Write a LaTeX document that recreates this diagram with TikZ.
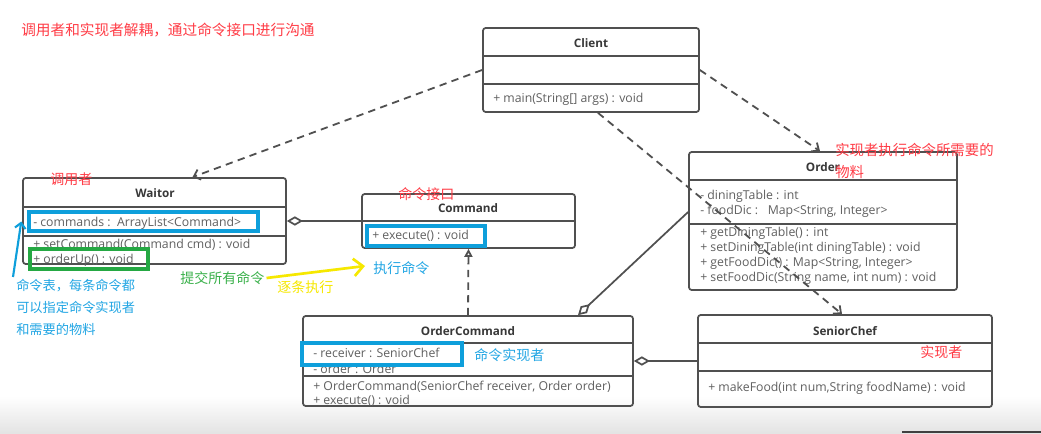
\documentclass[tikz,border=0pt]{standalone}
\usepackage{fontspec}
\setmainfont{Open Sans}
\newfontfamily\cjk{Noto Sans CJK SC}
\usetikzlibrary{arrows.meta,fit,calc,backgrounds}

\definecolor{umlline}{HTML}{505050}
\definecolor{umltext}{HTML}{606060}
\definecolor{umltitle}{HTML}{383838}
\definecolor{notered}{HTML}{FF3C46}
\definecolor{noteblue}{HTML}{22A6E4}
\definecolor{notegreen}{HTML}{3BB14B}
\definecolor{noteyellow}{HTML}{F6E800}
\definecolor{markblue}{HTML}{0E9FDB}
\definecolor{markgreen}{HTML}{25A843}

\begin{document}
\begin{tikzpicture}[
    x=0.75pt, y=-0.75pt,
    cls/.style={draw=umlline, line width=1.3pt, rounded corners=2pt, inner sep=0pt},
    sep/.style={draw=umlline, line width=1.3pt},
    title/.style={font=\fontsize{8.8}{10}\selectfont\bfseries, text=umltitle, inner sep=0pt},
    member/.style={font=\fontsize{9.2}{11}\selectfont, text=umltext, anchor=west, inner sep=0pt},
    note/.style={font=\cjk\fontsize{10.5}{12}\selectfont, anchor=west, inner sep=0pt},
    hlbox/.style={line width=2.6pt, inner sep=0pt},
    dep/.style={draw=umlline, line width=1.35pt, dash pattern=on 5.5pt off 4pt, -{Straight Barb[length=4.5pt,width=8pt]}},
    real/.style={draw=umlline, line width=1.35pt, dash pattern=on 5.5pt off 4pt, -{Triangle[open,length=6pt,width=6pt,fill=white]}},
    agg/.style={draw=umlline, line width=1.3pt, {Diamond[open,length=12pt,width=7pt,fill=white]}-}
]
\useasboundingbox (0,0) rectangle (1041,434);
\fill[white] (0,0) rectangle (1041,434);
\fill[top color=white, bottom color=black!11] (0,396) rectangle (1041,434);
\draw[black!75, line width=0.8pt] (902,432) -- (1041,432);

% Client
\node[cls, fit={(483,28) (699,112)}] (client) {};
\draw[sep] (client.west |- 0,56) -- (client.east |- 0,56);
\draw[sep] (client.west |- 0,84) -- (client.east |- 0,84);
\node[title] (clientname) at (591,43) {Client};
\node[member] (clientm1) at (493,99) {+ main(String[] args) : void};

% Waitor (invoker)
\node[cls, fit={(23,178) (286,264)}] (waitor) {};
\draw[sep] (waitor.west |- 0,207) -- (waitor.east |- 0,207);
\draw[sep] (waitor.west |- 0,236) -- (waitor.east |- 0,236);
\node[title] (waitorname) at (155,193) {Waitor};
\node[member] (waitora1) at (33,223) {- commands :\ \ ArrayList<Command>};
\node[member] (waitorm1) at (33,245) {+ setCommand(Command cmd) : void};
\node[member] (waitorm2) at (33,260) {+ orderUp() : void};

% Command interface
\node[cls, fit={(362,194) (575,248)}] (command) {};
\draw[sep] (command.west |- 0,221) -- (command.east |- 0,221);
\node[title] (commandname) at (468,208) {Command};
\node[member] (commandm1) at (372,236) {+ execute() : void};

% OrderCommand
\node[cls, fit={(303,316) (633,406)}] (ordercommand) {};
\draw[sep] (ordercommand.west |- 0,343) -- (ordercommand.east |- 0,343);
\draw[sep] (ordercommand.west |- 0,376) -- (ordercommand.east |- 0,376);
\node[title] (ordercommandname) at (468,331) {OrderCommand};
\node[member] (ordercommanda1) at (313,353) {- receiver : SeniorChef};
\node[member] (ordercommanda2) at (313,369) {- order : Order};
\node[member] (ordercommandm1) at (313,387) {+ OrderCommand(SeniorChef receiver, Order order)};
\node[member] (ordercommandm2) at (313,401) {+ execute() : void};

% Order
\node[cls, fit={(689,152) (957,290)}] (order) {};
\draw[sep] (order.west |- 0,180) -- (order.east |- 0,180);
\draw[sep] (order.west |- 0,224) -- (order.east |- 0,224);
\node[title] (ordername) at (823,167) {Order};
\node[member] (ordera1) at (700,196) {- diningTable : int};
\node[member] (ordera2) at (700,211) {- foodDic :\ \ \ Map<String, Integer>};
\node[member] (orderm1) at (700,233) {+ getDiningTable() : int};
\node[member] (orderm2) at (700,248) {+ setDiningTable(int diningTable) : void};
\node[member] (orderm3) at (700,263) {+ getFoodDic() : Map<String, Integer>};
\node[member] (orderm4) at (700,278) {+ setFoodDic(String name, int num) : void};

% SeniorChef (receiver)
\node[cls, fit={(698,315) (992,407)}] (seniorchef) {};
\draw[sep] (seniorchef.west |- 0,343) -- (seniorchef.east |- 0,343);
\draw[sep] (seniorchef.west |- 0,371) -- (seniorchef.east |- 0,371);
\node[title] (seniorchefname) at (845,331) {SeniorChef};
\node[member] (seniorchefm1) at (708,388) {+ makeFood(int num,String foodName) : void};

% Relations
\draw[dep] (client.west) -- ($(waitor.north)+(38,0)$);
\draw[dep] (client.east) -- ($(order.north)+(-3,0)$);
\draw[dep] ($(client.south)+(7,0)$) -- ($(seniorchef.north)+(-3,0)$);
\draw[real] (ordercommand.north) -- (command.south);
\draw[agg] (waitor.east) -- (command.west);
\draw[agg] ($(ordercommand.north)+(110,0)$) -- ($(order.west)+(0,-9)$);
\draw[agg] (ordercommand.east) -- (seniorchef.west);

% Highlight boxes
\node[hlbox, draw=markblue, fit={(29,212) (258,231)}] (hlcommands) {};
\node[hlbox, draw=markgreen, fit={(30,249) (148,269)}] (hlorderup) {};
\node[hlbox, draw=markblue, fit={(367,226) (485,246)}] (hlexecute) {};
\node[hlbox, draw=markblue, fit={(302,343) (462,365)}] (hlreceiver) {};

% Notes
\node[note, text=notered, font=\cjk\fontsize{11}{13}\selectfont] (noteheader) at (21,30) {调用者和实现者解耦，通过命令接口进行沟通};
\node[note, text=notered] (noteinvoker) at (50,179) {调用者};
\node[note, text=notered] (noteiface) at (398,194) {命令接口};
\node[note, text=notered, align=left, font=\cjk\fontsize{10.8}{16.5}\selectfont, anchor=north west] (notematerial) at (835,143) {实现者执行命令所需要的\\物料};
\node[note, text=notered] (notereceiver) at (920,352) {实现者};
\node[note, text=noteblue] (noteimpl) at (474,355) {命令实现者};
\node[note, text=noteblue] (noteexec) at (373,268) {执行命令};
\node[note, text=notegreen] (notesubmit) at (180,278) {提交所有命令};
\node[note, text=noteyellow] (noteonebyone) at (277,287) {逐条执行};
\node[note, text=noteblue, align=left, font=\cjk\fontsize{9.9}{16.5}\selectfont, anchor=north west] (notelist) at (16,279) {命令表，每条命令都\\可以指定命令实现者\\和需要的物料};

% Note arrows
\coordinate (bluetail) at (13,277);
\draw[markblue, line width=1.6pt, -{Straight Barb[length=4pt,width=8pt]}] (bluetail) -- ($(hlcommands.west)+(-6,0)$);
\draw[noteyellow, line width=2pt, -{Straight Barb[length=7pt,width=13pt]}] ($(notesubmit.east)+(2,0)$) -- ($(noteexec.west)+(-8,-2)$);

\end{tikzpicture}
\end{document}
